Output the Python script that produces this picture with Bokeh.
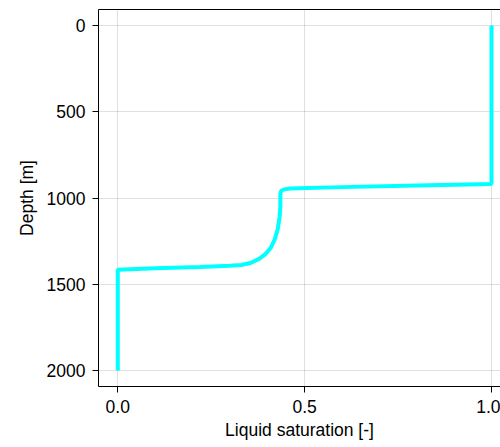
from bokeh.plotting import figure
from bokeh.models import Range1d, FixedTicker, LinearAxis, CustomJSTickFormatter, PrintfTickFormatter
from bokeh.embed import file_html
from bokeh.resources import INLINE

# Liquid saturation profile along depth
depth_m = [0, 919, 928, 937, 945, 950, 960, 980, 1050, 1110, 1180, 1240, 1290,
           1325, 1350, 1377, 1388, 1393, 1400, 1407, 1415, 2000]
saturation = [1.0, 1.0, 0.8, 0.6, 0.46, 0.445, 0.437, 0.435, 0.435, 0.433, 0.428,
              0.42, 0.409, 0.395, 0.38, 0.355, 0.33, 0.3, 0.22, 0.1, 0.0, 0.0]

x_ticks = [0.0, 0.5, 1.0]
y_ticks = [0, 500, 1000, 1500, 2000]

FONT = "Liberation Sans"
FS = "17.5px"

p = figure(width=500, height=447, output_backend="svg", toolbar_location=None,
           x_range=Range1d(-0.0516, 1.0241), y_range=Range1d(2092, -92),
           min_border_left=98, min_border_right=0, min_border_top=9,
           min_border_bottom=61)

p.background_fill_color = "white"
p.border_fill_color = "white"
p.outline_line_color = None

p.line(saturation, depth_m, line_color="#00FFFF", line_width=4)

for ax in (p.xaxis[0], p.yaxis[0]):
    ax.axis_line_color = "black"
    ax.axis_line_width = 1
    ax.major_tick_line_color = "black"
    ax.major_tick_out = 6
    ax.major_tick_in = 0
    ax.minor_tick_line_color = None
    ax.major_label_text_font = FONT
    ax.major_label_text_font_size = FS
    ax.major_label_text_color = "black"
    ax.major_label_standoff = 7
    ax.axis_label_text_font = FONT
    ax.axis_label_text_font_size = FS
    ax.axis_label_text_font_style = "normal"
    ax.axis_label_text_color = "black"

p.xaxis[0].ticker = FixedTicker(ticks=x_ticks)
p.xaxis[0].formatter = PrintfTickFormatter(format="%.1f")
p.xaxis[0].axis_label = "Liquid saturation [-]"
p.xaxis[0].axis_label_standoff = 4

p.yaxis[0].ticker = FixedTicker(ticks=y_ticks)
p.yaxis[0].axis_label = "Depth [m]"
p.yaxis[0].axis_label_standoff = 7

# top spine
top = LinearAxis(ticker=FixedTicker(ticks=[]), axis_line_color="black",
                 major_tick_out=0, major_tick_in=0, minor_tick_line_color=None,
                 major_label_standoff=0, axis_label_standoff=0)
p.add_layout(top, "above")

for g in (p.xgrid[0], p.ygrid[0]):
    g.grid_line_color = "black"
    g.grid_line_alpha = 0.12
    g.grid_line_width = 1
p.xgrid[0].ticker = FixedTicker(ticks=x_ticks)
p.ygrid[0].ticker = FixedTicker(ticks=y_ticks)

open("out.html", "w").write(file_html(p, INLINE))
